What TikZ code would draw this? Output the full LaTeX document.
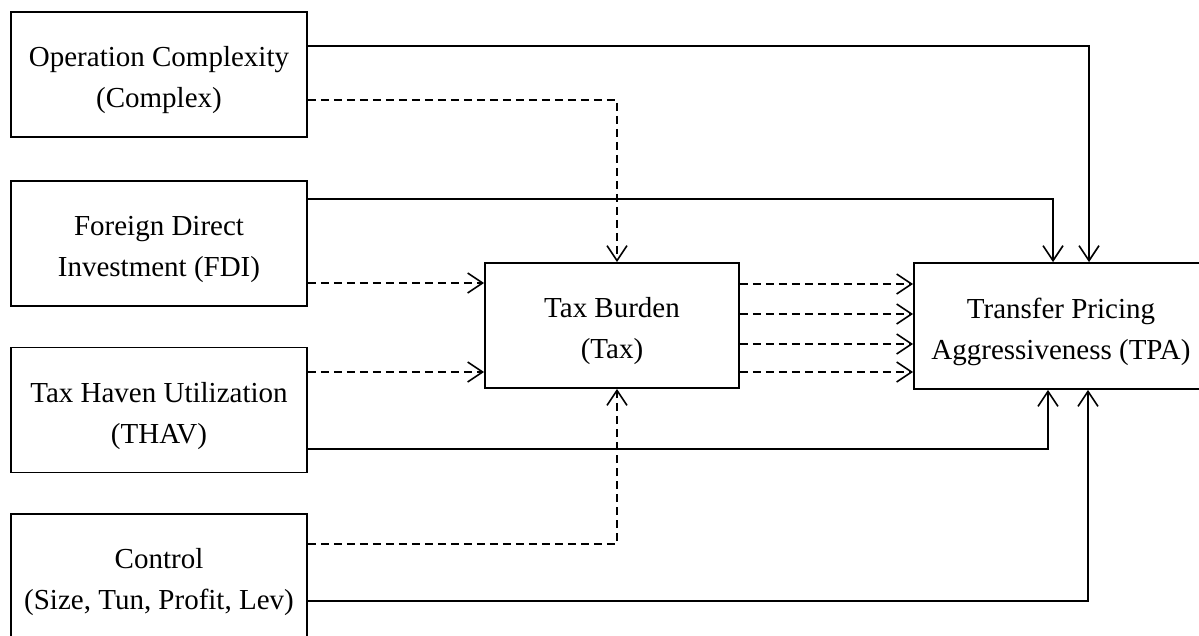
\documentclass[tikz,border=0pt]{standalone}
\usepackage{fontspec}
\setmainfont{Liberation Serif}
\usetikzlibrary{arrows.meta}
\begin{document}
\begin{tikzpicture}[x=1pt,y=-1pt,
  box/.style={draw,line width=1.8pt,inner sep=0pt,
    minimum width=296pt,minimum height=125pt},
  lbl/.style={inner sep=0pt,align=center,font=\fontsize{29}{41}\selectfont},
  link/.style={line width=1.6pt,-{Straight Barb[length=15pt,width=20pt,line width=1.6pt]}},
  dlink/.style={link,dash pattern=on 8pt off 5pt}]
\useasboundingbox (0,0) rectangle (1199,635);

% variable boxes
\node[box] (cplx) at (159,74.5) {};
\node[box] (fdi)  at (159,243.5) {};
\node[box] (thav) at (159,410) {};
\node[box] (ctrl) at (159,576.5) {};
\node[box,minimum width=254pt] (tax) at (612,325.5) {};
\node[box,minimum width=294pt,minimum height=126pt] (tpa) at (1061,326) {};

% box captions, set slightly below the box centres
\node[lbl] (cplxl) at ([yshift=-6pt]cplx.center) {Operation Complexity\\(Complex)};
\node[lbl] (fdil)  at ([yshift=-6pt]fdi.center)  {Foreign Direct\\Investment (FDI)};
\node[lbl] (thavl) at ([yshift=-6pt]thav.center) {Tax Haven Utilization\\(THAV)};
\node[lbl] (ctrll) at ([yshift=-6pt]ctrl.center) {Control\\(Size, Tun, Profit, Lev)};
\node[lbl] (taxl)  at ([yshift=-6pt]tax.center)  {Tax Burden\\(Tax)};
\node[lbl] (tpal)  at ([yshift=-6pt]tpa.center)  {Transfer Pricing\\Aggressiveness (TPA)};

% turning points of the connectors
\coordinate (r1) at (1089,46);
\coordinate (r2) at (617,100);
\coordinate (r3) at (1053,199);
\coordinate (r4) at (0,283);
\coordinate (r5) at (0,372);
\coordinate (r6) at (1048,449);
\coordinate (r7) at (617,544);
\coordinate (r8) at (1088,601);

% direct effects
\draw[link]  (cplx.east |- r1) -| (tpa.north -| r1);
\draw[link]  (fdi.east |- r3)  -| (tpa.north -| r3);
\draw[link]  (thav.east |- r6) -| (tpa.south -| r6);
\draw[link]  (ctrl.east |- r8) -| (tpa.south -| r8);

% paths through tax burden
\draw[dlink] (cplx.east |- r2) -| (tax.north -| r2);
\draw[dlink] (fdi.east |- r4)  -- (tax.west |- r4);
\draw[dlink] (thav.east |- r5) -- (tax.west |- r5);
\draw[dlink] (ctrl.east |- r7) -| (tax.south -| r7);

% tax burden to transfer pricing aggressiveness
\foreach \yy in {284,314,344,372}{
  \coordinate (t\yy) at (0,\yy);
  \draw[dlink] (tax.east |- t\yy) -- (tpa.west |- t\yy);
}
\end{tikzpicture}
\end{document}
